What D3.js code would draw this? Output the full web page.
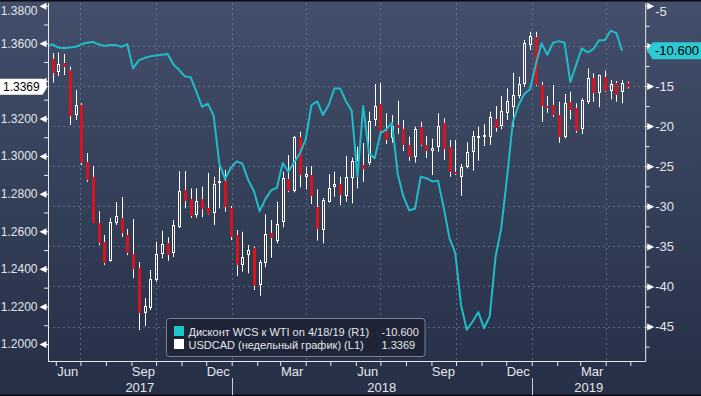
<!DOCTYPE html>
<html>
<head>
<meta charset="utf-8">
<script src="https://cdn.jsdelivr.net/npm/d3@7"></script>
<style>
	body { margin: 0; background: #2e3a55; }
	#chart { width: 701px; height: 396px; }
	text { font-family: "Liberation Sans", Arial, sans-serif; }
</style>
</head>
<body>
<div id="chart"></div>
<script>
// weekly USDCAD candles, first bar week of 2017-05-21
var firstWeek = new Date(2017, 4, 21);

var candleOpen = [1.3702, 1.3516, 1.3448, 1.3493, 1.3457, 1.3218, 1.3271, 1.2970, 1.2890, 1.2645,
	1.2544, 1.2443, 1.2642, 1.2672, 1.2580, 1.2479, 1.2406, 1.2165, 1.2191, 1.2340,
	1.2479, 1.2539, 1.2486, 1.2624, 1.2819, 1.2770, 1.2686, 1.2770, 1.2725, 1.2698,
	1.2855, 1.2869, 1.2722, 1.2580, 1.2420, 1.2473, 1.2509, 1.2314, 1.2429, 1.2592,
	1.2550, 1.2647, 1.2876, 1.2814, 1.3099, 1.2890, 1.2899, 1.2730, 1.2606, 1.2757,
	1.2837, 1.2851, 1.2787, 1.2881, 1.2947, 1.2952, 1.2964, 1.3192, 1.3275, 1.3132,
	1.3094, 1.3165, 1.3144, 1.3059, 1.2993, 1.3154, 1.3061, 1.3027, 1.3050, 1.3174,
	1.3046, 1.2917, 1.2887, 1.2943, 1.3023, 1.3099, 1.3105, 1.3099, 1.3195, 1.3160,
	1.3230, 1.3259, 1.3319, 1.3381, 1.3590, 1.3635, 1.3378, 1.3266, 1.3271, 1.3218,
	1.3099, 1.3289, 1.3254, 1.3142, 1.3289, 1.3413, 1.3334, 1.3422, 1.3347, 1.3387,
	1.3342, 1.3387];
var candleHigh = [1.3713, 1.3548, 1.3550, 1.3543, 1.3475, 1.3351, 1.3282, 1.3016, 1.2947, 1.2707,
	1.2580, 1.2672, 1.2755, 1.2782, 1.2612, 1.2665, 1.2436, 1.2245, 1.2394, 1.2544,
	1.2603, 1.2568, 1.2660, 1.2920, 1.2920, 1.2828, 1.2828, 1.2837, 1.2911, 1.2890,
	1.2943, 1.2926, 1.2734, 1.2606, 1.2597, 1.2527, 1.2518, 1.2447, 1.2690, 1.2660,
	1.2757, 1.2917, 1.3005, 1.3106, 1.3129, 1.2943, 1.2947, 1.2823, 1.2777, 1.2903,
	1.2917, 1.2890, 1.3000, 1.2991, 1.3050, 1.3069, 1.3236, 1.3383, 1.3390, 1.3227,
	1.3218, 1.3294, 1.3192, 1.3103, 1.3156, 1.3182, 1.3106, 1.3092, 1.3227, 1.3201,
	1.3085, 1.3085, 1.2958, 1.3073, 1.3133, 1.3156, 1.3169, 1.3236, 1.3266, 1.3319,
	1.3360, 1.3443, 1.3422, 1.3617, 1.3661, 1.3661, 1.3395, 1.3319, 1.3378, 1.3289,
	1.3330, 1.3342, 1.3280, 1.3307, 1.3466, 1.3440, 1.3433, 1.3454, 1.3404, 1.3399,
	1.3404, 1.3395];
var candleLow = [1.3511, 1.3391, 1.3426, 1.3431, 1.3165, 1.3192, 1.2952, 1.2863, 1.2644, 1.2527,
	1.2420, 1.2438, 1.2633, 1.2569, 1.2473, 1.2351, 1.2074, 1.2096, 1.2181, 1.2331,
	1.2456, 1.2443, 1.2463, 1.2617, 1.2722, 1.2672, 1.2672, 1.2674, 1.2690, 1.2633,
	1.2722, 1.2704, 1.2553, 1.2362, 1.2385, 1.2376, 1.2287, 1.2257, 1.2408, 1.2459,
	1.2536, 1.2621, 1.2808, 1.2807, 1.2834, 1.2823, 1.2745, 1.2550, 1.2536, 1.2752,
	1.2784, 1.2739, 1.2757, 1.2748, 1.2828, 1.2863, 1.2952, 1.3160, 1.3129, 1.3064,
	1.3071, 1.3117, 1.3027, 1.2975, 1.2965, 1.3053, 1.2989, 1.2899, 1.3023, 1.2979,
	1.2890, 1.2900, 1.2789, 1.2935, 1.2922, 1.2975, 1.3053, 1.3059, 1.3129, 1.3142,
	1.3192, 1.3156, 1.3307, 1.3369, 1.3564, 1.3372, 1.3182, 1.3230, 1.3209, 1.3071,
	1.3094, 1.3195, 1.3124, 1.3117, 1.3277, 1.3289, 1.3259, 1.3342, 1.3302, 1.3289,
	1.3280, 1.3360];
var candleClose = [1.3537, 1.3444, 1.3489, 1.3472, 1.3213, 1.3271, 1.2961, 1.2872, 1.2645, 1.2539,
	1.2432, 1.2647, 1.2681, 1.2589, 1.2482, 1.2397, 1.2163, 1.2202, 1.2346, 1.2479,
	1.2532, 1.2473, 1.2633, 1.2814, 1.2762, 1.2682, 1.2762, 1.2716, 1.2693, 1.2851,
	1.2867, 1.2730, 1.2571, 1.2420, 1.2461, 1.2500, 1.2309, 1.2435, 1.2585, 1.2562,
	1.2638, 1.2881, 1.2812, 1.3099, 1.2899, 1.2904, 1.2789, 1.2610, 1.2766, 1.2828,
	1.2851, 1.2793, 1.2890, 1.2973, 1.2979, 1.2929, 1.3188, 1.3266, 1.3133, 1.3085,
	1.3160, 1.3147, 1.3057, 1.2993, 1.3143, 1.3059, 1.3026, 1.3043, 1.3161, 1.3036,
	1.2917, 1.2904, 1.2943, 1.3023, 1.3106, 1.3106, 1.3112, 1.3209, 1.3147, 1.3239,
	1.3293, 1.3324, 1.3383, 1.3599, 1.3638, 1.3378, 1.3266, 1.3259, 1.3218, 1.3103,
	1.3280, 1.3245, 1.3135, 1.3298, 1.3413, 1.3334, 1.3431, 1.3347, 1.3383, 1.3325,
	1.3390, 1.3369];

// WCS discount to WTI, same weeks (R1)
var wcsDiscount = [-10.1, -9.8, -10.2, -10.3, -10.2, -10.1, -9.8, -9.6, -9.5, -9.8,
	-10.0, -9.9, -9.9, -10.1, -9.8, -12.8, -11.8, -11.5, -11.3, -11.2,
	-11.1, -11.0, -12.3, -13.0, -13.8, -13.9, -15.7, -17.6, -17.2, -18.7,
	-24.7, -26.6, -25.2, -24.4, -24.7, -26.7, -28.1, -30.6, -29.1, -28.0,
	-27.7, -24.6, -25.7, -24.5, -23.4, -21.7, -17.4, -16.9, -18.6, -17.4,
	-15.3, -15.3, -16.9, -18.1, -26.3, -17.5, -23.4, -24.0, -20.9, -20.4,
	-19.6, -26.0, -28.8, -30.5, -30.3, -26.3, -26.5, -26.9, -26.8, -30.2,
	-34.0, -35.8, -42.3, -45.4, -44.4, -43.2, -45.2, -43.7, -36.3, -32.7,
	-26.4, -19.5, -17.4, -16.0, -15.4, -12.3, -9.7, -11.1, -9.6, -9.4,
	-9.6, -14.5, -12.4, -10.3, -10.8, -10.4, -9.3, -9.3, -8.1, -8.4,
	-10.6];

var leftTicks = [1.20, 1.22, 1.24, 1.26, 1.28, 1.30, 1.32, 1.34, 1.36, 1.38];
var leftMinor = [1.21, 1.23, 1.25, 1.27, 1.29, 1.31, 1.33, 1.35, 1.37];
var rightTicks = [-5, -10, -15, -20, -25, -30, -35, -40, -45];
var rightMinor = [-7.5, -12.5, -17.5, -22.5, -27.5, -32.5, -37.5, -42.5, -47.5];
var monthLabels = ["2017-06", "2017-09", "2017-12", "2018-03", "2018-06", "2018-09", "2018-12", "2019-03"];
var years = [2017, 2018, 2019];

var legendNames = ["Дисконт WCS к WTI on 4/18/19 (R1)", "USDCAD (недельный график) (L1)"];

var red = "#d7141e";
var cyan = "#1fbdc8";
var textColor = "#e4e6ea";
var plotLeft = 48, plotRight = 645.7, plotTop = 3, plotBottom = 361;

// plain hyphen for negatives, as on the terminal
var locale = d3.formatLocale({ decimal: ".", thousands: ",", grouping: [3], currency: ["", ""], minus: "-" });
var fmtRight = locale.format("d");
var fmtTag = locale.format(".3f");
var fmtLeft = locale.format(".4f");

var svg = d3.select("#chart").append("svg")
	.attr("width", 701)
	.attr("height", 396);

var defs = svg.append("defs");
var grad = defs.append("linearGradient")
	.attr("id", "bg")
	.attr("x1", 0).attr("y1", 0)
	.attr("x2", 0).attr("y2", 1);
grad.append("stop").attr("offset", "0%").attr("stop-color", "#434f6b");
grad.append("stop").attr("offset", "100%").attr("stop-color", "#252f46");
defs.append("clipPath").attr("id", "plotClip")
	.append("rect")
	.attr("x", plotLeft)
	.attr("y", plotTop)
	.attr("width", plotRight - plotLeft)
	.attr("height", plotBottom - plotTop);

svg.append("rect")
	.attr("width", 701)
	.attr("height", 396)
	.attr("fill", "url(#bg)");
svg.append("rect").attr("width", 701).attr("height", 1.5).attr("fill", "#0b0d12");
svg.append("rect").attr("y", 394.5).attr("width", 701).attr("height", 1.5).attr("fill", "#0b0d12");

// scales
var x = d3.scaleTime()
	.domain([new Date(2018, 0, 1), new Date(2019, 0, 1)])
	.range([231.7, 531.7]);
var yL = d3.scaleLinear().domain([1.1910, 1.3814]).range([plotBottom, plotTop]);
var yR = d3.scaleLinear().domain([-49.29, -4.65]).range([plotBottom, plotTop]);

var candles = candleOpen.map(function(o, i) {
	return {
		date: d3.timeDay.offset(firstWeek, 7 * i),
		open: o,
		high: candleHigh[i],
		low: candleLow[i],
		close: candleClose[i]
	};
});
var wcs = wcsDiscount.map(function(v, i) {
	return { date: d3.timeDay.offset(firstWeek, 7 * i), value: v };
});

var lastClose = candleClose[candleClose.length - 1];
var lastWcs = wcsDiscount[wcsDiscount.length - 1];

var startDate = x.invert(plotLeft), endDate = x.invert(plotRight);

// grid
var grid = svg.append("g")
	.attr("stroke", "#7b8aa6")
	.attr("stroke-opacity", 0.6)
	.attr("stroke-dasharray", "2,3");
grid.selectAll(".hgrid")
	.data(rightTicks.filter(function(d) { return yR(d) > 10; }))
	.enter().append("line")
	.attr("x1", plotLeft)
	.attr("x2", plotRight)
	.attr("y1", function(d) { return Math.round(yR(d)) + 0.5; })
	.attr("y2", function(d) { return Math.round(yR(d)) + 0.5; });
grid.selectAll(".vgrid")
	.data(d3.timeMonth.every(3).range(startDate, endDate))
	.enter().append("line")
	.attr("x1", function(d) { return Math.round(x(d)) + 0.5; })
	.attr("x2", function(d) { return Math.round(x(d)) + 0.5; })
	.attr("y1", plotTop)
	.attr("y2", plotBottom);

var plot = svg.append("g").attr("clip-path", "url(#plotClip)");

// candles
var candle = plot.selectAll(".candle")
	.data(candles)
	.enter().append("g")
	.attr("class", "candle");

function cx(d) { return Math.round(x(d.date)); }
function bodyTop(d) { return Math.round(yL(Math.max(d.open, d.close))); }
function bodyBottom(d) { return Math.max(Math.round(yL(Math.min(d.open, d.close))), bodyTop(d) + 2); }

candle.append("line")
	.attr("x1", function(d) { return cx(d) + 0.5; })
	.attr("x2", function(d) { return cx(d) + 0.5; })
	.attr("y1", function(d) { return yL(d.high); })
	.attr("y2", function(d) { return bodyTop(d); })
	.attr("stroke", "#ffffff")
	.attr("stroke-width", 1);
candle.append("line")
	.attr("x1", function(d) { return cx(d) + 0.5; })
	.attr("x2", function(d) { return cx(d) + 0.5; })
	.attr("y1", function(d) { return bodyBottom(d); })
	.attr("y2", function(d) { return yL(d.low); })
	.attr("stroke", "#ffffff")
	.attr("stroke-width", 1);

candle.filter(function(d) { return d.close < d.open; })
	.append("rect")
	.attr("x", function(d) { return cx(d) - 1; })
	.attr("width", 3)
	.attr("y", bodyTop)
	.attr("height", function(d) { return bodyBottom(d) - bodyTop(d); })
	.attr("fill", red);

candle.filter(function(d) { return d.close >= d.open; })
	.append("rect")
	.attr("x", function(d) { return cx(d) - 0.5; })
	.attr("width", 2)
	.attr("y", function(d) { return bodyTop(d) + 0.5; })
	.attr("height", function(d) { return bodyBottom(d) - bodyTop(d) - 1; })
	.attr("fill", "none")
	.attr("stroke", "#ffffff")
	.attr("stroke-width", 1);

// WCS line
var line = d3.line()
	.x(function(d) { return x(d.date); })
	.y(function(d) { return yR(d.value); });
plot.append("path")
	.datum(wcs)
	.attr("d", line)
	.attr("fill", "none")
	.attr("stroke", cyan)
	.attr("stroke-width", 2)
	.attr("stroke-linejoin", "round");

// frame
var frame = svg.append("g").attr("stroke", "#e8eaee").attr("stroke-width", 1);
frame.append("line").attr("x1", plotLeft + 0.5).attr("x2", plotLeft + 0.5).attr("y1", plotTop).attr("y2", plotBottom + 0.5);
frame.append("line").attr("x1", plotRight).attr("x2", plotRight).attr("y1", plotTop).attr("y2", plotBottom + 0.5);
frame.append("line").attr("x1", plotLeft).attr("x2", plotRight).attr("y1", plotBottom + 0.5).attr("y2", plotBottom + 0.5);

// left axis (label under the last-price tag is hidden, as on the terminal)
var leftAxis = svg.append("g")
	.attr("transform", "translate(" + plotLeft + ",0)")
	.call(d3.axisLeft(yL).tickValues(leftTicks).tickFormat(fmtLeft).tickSize(0).tickPadding(10.5));
leftAxis.select(".domain").remove();
leftAxis.selectAll(".tick text")
	.attr("fill", textColor)
	.style("font-size", "12px")
	.attr("y", function(d) { return Math.max(0, 11 - yL(d)); });
leftAxis.selectAll(".tick")
	.filter(function(d) { return Math.abs(yL(d) - yL(lastClose)) < 14; })
	.select("text").remove();
leftAxis.selectAll(".tick").append("path")
	.attr("d", "M-8.5,0L-1.5,-3.5L-1.5,3.5Z M-1.5,-0.5H0V0.5H-1.5Z")
	.attr("fill", "#ffffff");
var leftMinorAxis = svg.append("g")
	.attr("transform", "translate(" + plotLeft + ",0)")
	.call(d3.axisLeft(yL).tickValues(leftMinor).tickFormat("").tickSize(4));
leftMinorAxis.select(".domain").remove();
leftMinorAxis.selectAll("line").attr("stroke", "#e8eaee");

// right axis
var rightAxis = svg.append("g")
	.attr("transform", "translate(" + plotRight + ",0)")
	.call(d3.axisRight(yR).tickValues(rightTicks).tickFormat(fmtRight).tickSize(0).tickPadding(9.5));
rightAxis.select(".domain").remove();
rightAxis.selectAll(".tick text")
	.attr("fill", textColor)
	.style("font-size", "13px")
	.attr("y", function(d) { return Math.max(0, 11 - yR(d)); });
rightAxis.selectAll(".tick")
	.filter(function(d) { return Math.abs(yR(d) - yR(lastWcs)) < 14; })
	.select("text").remove();
rightAxis.selectAll(".tick").append("path")
	.attr("d", "M8.5,0L1.5,-3.5L1.5,3.5Z M0,-0.5H1.5V0.5H0Z")
	.attr("fill", "#ffffff");
var rightMinorAxis = svg.append("g")
	.attr("transform", "translate(" + plotRight + ",0)")
	.call(d3.axisRight(yR).tickValues(rightMinor).tickFormat("").tickSize(4));
rightMinorAxis.select(".domain").remove();
rightMinorAxis.selectAll("line").attr("stroke", "#e8eaee");

// bottom axis
var monthTicks = svg.append("g")
	.attr("transform", "translate(0," + plotBottom + ")")
	.call(d3.axisBottom(x).tickValues(d3.timeMonth.range(startDate, endDate)).tickFormat("").tickSize(5));
monthTicks.select(".domain").remove();
monthTicks.selectAll("line").attr("stroke", "#e8eaee");

var parseMonth = d3.timeParse("%Y-%m");
var monthAxis = svg.append("g")
	.attr("transform", "translate(0," + plotBottom + ")")
	.call(d3.axisBottom(x)
		.tickValues(monthLabels.map(function(m) { return d3.timeDay.offset(parseMonth(m), 14); }))
		.tickFormat(d3.timeFormat("%b"))
		.tickSize(0)
		.tickPadding(6));
monthAxis.select(".domain").remove();
monthAxis.selectAll("text").attr("fill", textColor).style("font-size", "13px");

svg.selectAll(".yearSep")
	.data(years.slice(1))
	.enter().append("line")
	.attr("x1", function(d) { return Math.round(x(new Date(d, 0, 1))) + 0.5; })
	.attr("x2", function(d) { return Math.round(x(new Date(d, 0, 1))) + 0.5; })
	.attr("y1", 378)
	.attr("y2", 395)
	.attr("stroke", "#c8ccd4");

svg.selectAll(".yearLabel")
	.data(years)
	.enter().append("text")
	.attr("x", function(d) {
		var a = Math.max(x(new Date(d, 0, 1)), plotLeft);
		var b = Math.min(x(new Date(d + 1, 0, 1)), plotRight);
		return (a + b) / 2;
	})
	.attr("y", 392)
	.attr("text-anchor", "middle")
	.attr("fill", textColor)
	.style("font-size", "13px")
	.text(function(d) { return d; });

// last value tags
var ly = yL(lastClose);
svg.append("path")
	.attr("d", "M0," + (ly - 8) + "H42.5L47.5," + ly + "L42.5," + (ly + 8) + "H0Z")
	.attr("fill", "#ffffff");
svg.append("text")
	.text(fmtLeft(lastClose))
	.attr("x", 3)
	.attr("y", ly + 4.5)
	.attr("fill", "#000000")
	.style("font-size", "12px");

var ry = yR(lastWcs);
svg.append("path")
	.attr("d", "M" + (plotRight + 1) + "," + ry + "L" + (plotRight + 7) + "," + (ry - 8.5) + "H701V" + (ry + 8.5) + "H" + (plotRight + 7) + "Z")
	.attr("fill", "#2ccbd3");
svg.append("text")
	.text(fmtTag(lastWcs))
	.attr("x", 655)
	.attr("y", ry + 4.5)
	.attr("fill", "#000000")
	.style("font-size", "13px");

// legend
var legend = svg.append("g").attr("transform", "translate(166.5,318.5)");
legend.append("rect")
	.attr("width", 258.5)
	.attr("height", 38)
	.attr("rx", 3)
	.attr("fill", "#1d2436")
	.attr("fill-opacity", 0.92)
	.attr("stroke", "#7d8292");
var legendRows = legend.selectAll(".row")
	.data([
		{ name: legendNames[0], color: "#1ec6cc", value: fmtTag(lastWcs) },
		{ name: legendNames[1], color: "#ffffff", value: fmtLeft(lastClose) }
	])
	.enter().append("g")
	.attr("transform", function(d, i) { return "translate(0," + (i * 13) + ")"; });
legendRows.append("rect")
	.attr("x", 7.5)
	.attr("y", 7.5)
	.attr("width", 10)
	.attr("height", 10)
	.attr("fill", function(d) { return d.color; });
legendRows.append("text")
	.text(function(d) { return d.name; })
	.attr("x", 22)
	.attr("y", 17)
	.attr("fill", textColor)
	.style("font-size", "11px");
legendRows.append("text")
	.text(function(d) { return d.value; })
	.attr("x", 215)
	.attr("y", 17)
	.attr("fill", textColor)
	.style("font-size", "11px");
</script>
</body>
</html>
